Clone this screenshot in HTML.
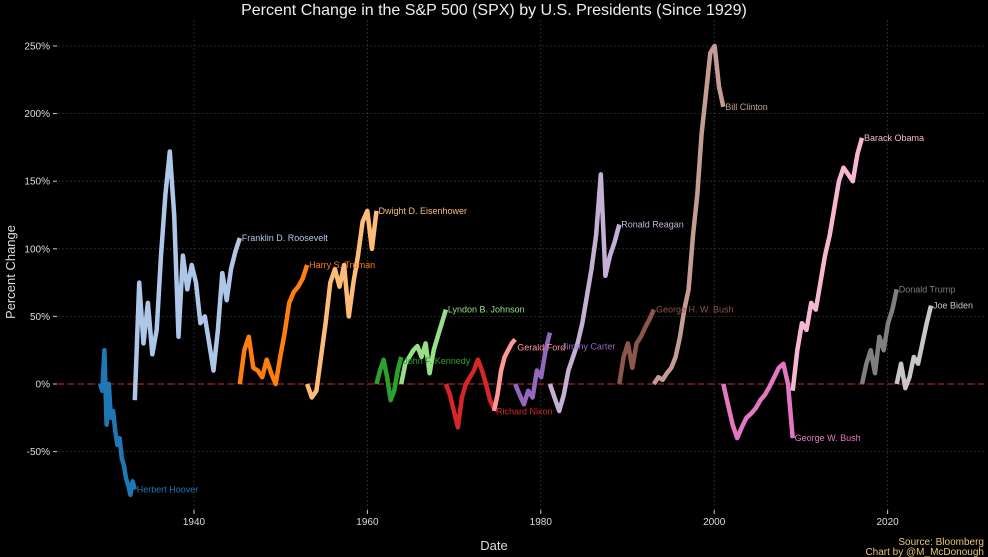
<!DOCTYPE html>
<html><head><meta charset="utf-8"><style>
body{margin:0;background:#000;}
svg{display:block;font-family:"Liberation Sans",sans-serif;}
</style></head><body>
<svg id="chart" width="988" height="557">
<rect width="988" height="557" fill="#000"/>
<text x="494" y="15" text-anchor="middle" fill="#eee" font-size="16">Percent Change in the S&amp;P 500 (SPX) by U.S. Presidents (Since 1929)</text>
<text transform="translate(15,272) rotate(-90)" text-anchor="middle" fill="#ddd" font-size="13">Percent Change</text>
<text x="494" y="550" text-anchor="middle" fill="#ddd" font-size="13">Date</text>
<text x="984" y="545" text-anchor="end" fill="#e8c870" font-size="10">Source: Bloomberg</text>
<text x="984" y="555" text-anchor="end" fill="#e8c870" font-size="10">Chart by @M_McDonough</text>
<g id="grid"></g><g id="series"></g>
</svg>
<script>
const yTicks=[250,200,150,100,50,0,-50];
const xTicks=[1940,1960,1980,2000,2020];
const names=["Herbert Hoover","Franklin D. Roosevelt","Harry S. Truman","Dwight D. Eisenhower","John F. Kennedy","Lyndon B. Johnson","Richard Nixon","Gerald Ford","Jimmy Carter","Ronald Reagan","George H. W. Bush","Bill Clinton","George W. Bush","Barack Obama","Donald Trump","Joe Biden"];
const starts=[1929.17,1933.17,1945.28,1953.05,1961.05,1963.9,1969.05,1974.6,1977.05,1981.05,1989.05,1993.05,2001.05,2009.05,2017.05,2021.05];
const ends=[1933.17,1945.28,1953.05,1961.05,1963.9,1969.05,1974.6,1977.05,1981.05,1989.05,1993.05,2001.05,2009.05,2017.05,2021.05,2025.0];
const colors=["#1f77b4","#aec7e8","#ff7f0e","#ffbb78","#2ca02c","#98df8a","#d62728","#ff9896","#9467bd","#c5b0d5","#8c564b","#c49c94","#e377c2","#f7b6d2","#7f7f7f","#c7c7c7"];
const hoover=[0,-5,25,-30,0,-25,-20,-35,-45,-40,-55,-60,-70,-75,-82,-72,-78];
const fdr=[-12,75,30,60,22,40,95,140,172,125,35,95,70,88,75,45,50,30,10,40,82,62,85,98,108];
const truman=[0,25,35,12,10,5,18,8,0,20,38,60,68,72,78,88];
const ike=[0,-10,-5,20,45,75,85,72,88,50,75,95,120,128,100,128];
const jfk=[0,10,18,5,-12,-5,10,20];
const lbj=[0,15,20,25,28,20,30,8,25,35,45,55];
const nixon=[0,-8,-20,-32,-10,0,5,10,18,10,0,-12,-18];
const ford=[-20,-8,10,20,25,30,33];
const carter=[0,-8,-15,-5,-10,10,5,25,38];
const reagan=[0,-10,-20,-8,10,20,30,45,65,85,110,155,80,95,105,118];
const bush41=[0,20,30,12,30,35,42,48,55];
const clinton=[0,5,3,8,12,20,35,55,70,110,140,185,215,245,250,220,205];
const bush43=[0,-15,-30,-40,-32,-25,-22,-18,-12,-8,-2,5,12,15,0,-40];
const obama=[-5,25,45,40,60,55,75,95,110,130,150,160,155,150,170,182];
const trump=[0,15,25,8,35,25,45,55,70];
const biden=[0,15,-3,5,20,15,30,45,58];
const allVals=[hoover,fdr,truman,ike,jfk,lbj,nixon,ford,carter,reagan,bush41,clinton,bush43,obama,trump,biden];
const labelDy=[0,0,0,0,4,0,3,8,14,0,0,0,0,0,0,0];
const labelDx=[0,0,0,0,0,0,0,0,10,0,0,0,0,0,0,0];

const NS="http://www.w3.org/2000/svg";
const X=y=>194+(y-1940)*8.67;
const Y=v=>384-v*1.352;
const grid=document.getElementById('grid');
const ser=document.getElementById('series');
function mk(tag,attrs,parent){const e=document.createElementNS(NS,tag);for(const k in attrs)e.setAttribute(k,attrs[k]);parent.appendChild(e);return e;}
yTicks.forEach(t=>{
  const l=mk('line',{x1:58,x2:985,y1:Y(t),y2:Y(t),stroke:'#333','stroke-width':0.8,'stroke-dasharray':'2,2'},grid);
  
  
  mk('line',{x1:53,x2:57,y1:Y(t),y2:Y(t),stroke:'#ccc'},grid);
  const tx=mk('text',{x:50,y:Y(t)+3.5,'text-anchor':'end',fill:'#ddd','font-size':10},grid);
  tx.textContent=t+'%';
  
  
});
xTicks.forEach(t=>{
  const l=mk('line',{x1:X(t),x2:X(t),y1:20,y2:510,stroke:'#333','stroke-width':0.8,'stroke-dasharray':'2,2'},grid);
  
  
  mk('line',{x1:X(t),x2:X(t),y1:510,y2:514,stroke:'#ccc'},grid);
  const tx=mk('text',{x:X(t),y:525,'text-anchor':'middle',fill:'#ddd','font-size':10},grid);
  tx.textContent=t;
  
  
});
const zl=mk('line',{x1:58,x2:985,y1:Y(0),y2:Y(0),stroke:'#b22222','stroke-width':1.3,'stroke-dasharray':'6,4'},grid);


allVals.forEach((vals,i)=>{
  const n=vals.length, s=starts[i], e=ends[i];
  const pts=vals.map((v,j)=>X(s+(e-s)*j/(n-1)).toFixed(1)+','+Y(v).toFixed(1)).join(' ');
  const p=mk('polyline',{points:pts,fill:'none',stroke:colors[i],'stroke-width':4.5,'stroke-linejoin':'round'},ser);
  
  
});
allVals.forEach((vals,i)=>{
  const n=vals.length;
  const t=mk('text',{x:X(ends[i])+2+labelDx[i],y:Y(vals[n-1])+3+labelDy[i],fill:colors[i],'font-size':9},ser);
  t.textContent=names[i];
  
  
});
</script>
</body></html>
